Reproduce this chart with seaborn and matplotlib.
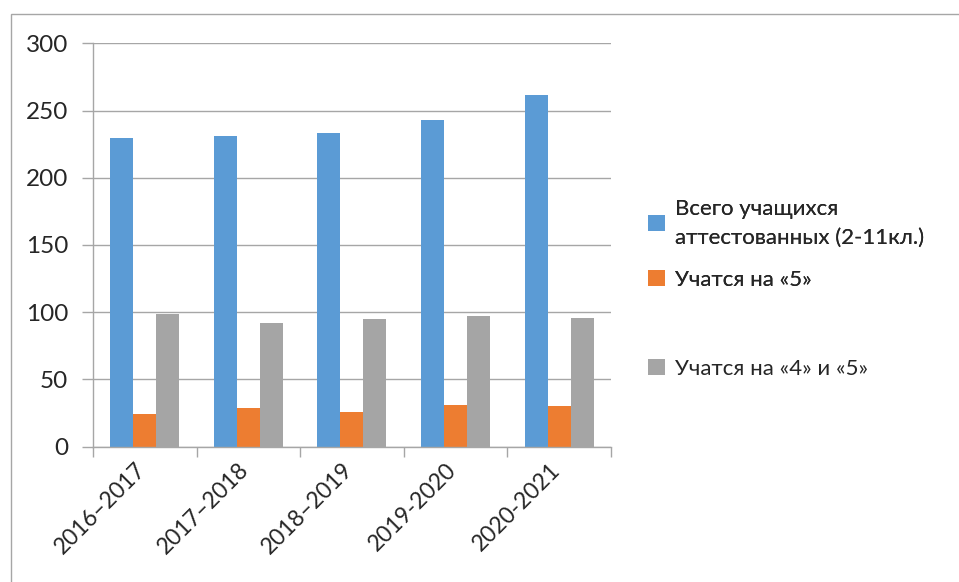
import pandas as pd
import matplotlib.pyplot as plt
import matplotlib.patches as mpatches
import matplotlib.transforms as mtransforms
import seaborn as sns

# данные
years = ['2016–2017', '2017–2018', '2018–2019', '2019-2020', '2020-2021']
series_names = ['Всего учащихся\nаттестованных (2-11кл.)', 'Учатся на «5»', 'Учатся на «4» и «5»']
total = [230, 231, 233, 243, 262]
excellent = [24, 29, 26, 31, 30]
good = [99, 92, 95, 97, 96]
colors = ['#5B9BD5', '#ED7D31', '#A5A5A5']

df = pd.DataFrame({
    'год': years * 3,
    'серия': [series_names[0]] * 5 + [series_names[1]] * 5 + [series_names[2]] * 5,
    'значение': total + excellent + good,
})

sns.set_theme(style='white')
plt.rcParams['font.family'] = ['Lato', 'DejaVu Sans']

fig = plt.figure(figsize=(9.59, 5.82), dpi=100)
ax = fig.add_axes([0.097, 0.2328, 0.540, 0.6925])

sns.barplot(data=df, x='год', y='значение', hue='серия', palette=colors,
            width=0.667, linewidth=0, saturation=1, ax=ax)

grid_c = '#a6a6a6'
ax.set_ylim(0, 300)
ax.set_xlim(-0.5, 4.5)
ax.set_yticks(range(0, 301, 50))
ax.yaxis.grid(True, color=grid_c, linewidth=1)
ax.set_axisbelow(True)
ax.set_xlabel('')
ax.set_ylabel('')
for s in ['top', 'right']:
    ax.spines[s].set_visible(False)
for s in ['left', 'bottom']:
    ax.spines[s].set_color(grid_c)
    ax.spines[s].set_linewidth(1)

ax.tick_params(axis='y', labelsize=17.5, length=8, color=grid_c, width=1, pad=10, left=True)
ax.set_xticks([i + 0.5 for i in range(-1, 5)], minor=True)
ax.tick_params(axis='x', which='minor', length=7, color=grid_c, width=1, bottom=True)
ax.tick_params(axis='x', which='major', length=0, labelsize=16.5, pad=9)
shift = mtransforms.ScaledTranslation(-10 / 100, 0, fig.dpi_scale_trans)
for lbl in ax.get_xticklabels():
    lbl.set_rotation(45)
    lbl.set_ha('right')
    lbl.set_rotation_mode('anchor')
    lbl.set_transform(lbl.get_transform() + shift)

# легенда: первые две записи и третья отдельно
handles, labels = ax.get_legend_handles_labels()
ax.legend_.remove()
leg1 = fig.legend(handles[:2], labels[:2], loc='upper left', bbox_to_anchor=(0.655, 0.693),
                  frameon=False, fontsize=16, handlelength=0.75, handleheight=0.75,
                  handletextpad=0.45, labelspacing=1.0)
for t in leg1.get_texts():
    t.set_linespacing(1.55)
leg2 = fig.legend(handles[2:], labels[2:], loc='upper left', bbox_to_anchor=(0.655, 0.418),
                  frameon=False, fontsize=16, handlelength=0.75, handleheight=0.75,
                  handletextpad=0.45)
fig.add_artist(leg1)

# рамка диаграммы
fig.patches.append(mpatches.Rectangle((11 / 959, -0.05), 1.2, 1 - 14 / 582 + 0.05,
                                      transform=fig.transFigure, fill=False,
                                      edgecolor=grid_c, linewidth=1))

fig.savefig('out.png', dpi=100)
